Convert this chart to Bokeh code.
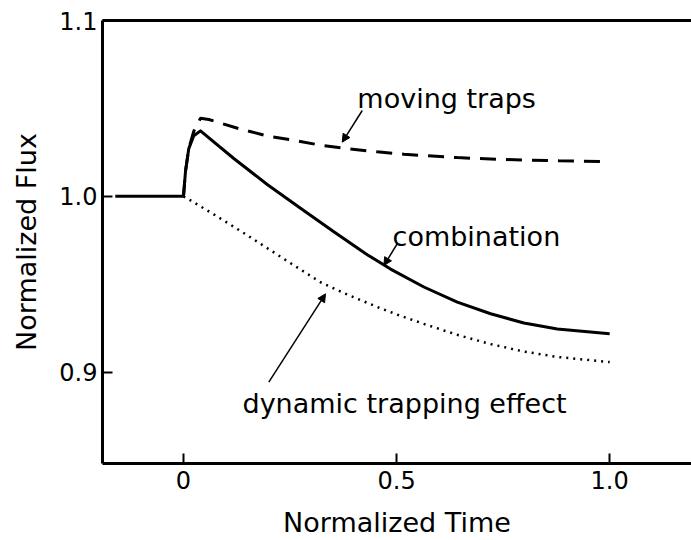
from bokeh.plotting import figure
from bokeh.models import Range1d, FixedTicker, LinearAxis, Label, Arrow, NormalHead
from bokeh.embed import file_html
from bokeh.resources import INLINE

# ---- data ----
base_x = [-0.16, 0.0]
base_y = [1.0, 1.0]

comb_x = [0.0, 0.0047, 0.0124, 0.0242, 0.0399, 0.1181, 0.1965, 0.2746, 0.3528,
          0.4312, 0.4859, 0.5641, 0.6425, 0.7207, 0.7988, 0.8772, 1.0]
comb_y = [1.0, 1.0141, 1.0271, 1.0344, 1.0372, 1.0215, 1.0067, 0.9932, 0.9798,
          0.9668, 0.9586, 0.9484, 0.9398, 0.9332, 0.9279, 0.9245, 0.9218]

mov_x = [0.0, 0.0047, 0.0124, 0.0242, 0.040, 0.0594, 0.1299, 0.200, 0.263, 0.3255,
         0.388, 0.4546, 0.5172, 0.6425, 0.7559, 0.881, 1.0]
mov_y = [1.0, 1.0141, 1.0271, 1.0370, 1.0444, 1.0437, 1.0385, 1.0341, 1.0317, 1.0289,
         1.0270, 1.0253, 1.0239, 1.0220, 1.0209, 1.0202, 1.0197]

dyn_x = [0.0, 0.0164, 0.0712, 0.1495, 0.2277, 0.3216, 0.3842, 0.4624, 0.5094,
         0.5641, 0.6425, 0.7207, 0.7988, 0.8772, 1.0]
dyn_y = [1.0, 0.9977, 0.9897, 0.9779, 0.9656, 0.9511, 0.9441, 0.9363, 0.9320,
         0.9274, 0.9212, 0.9159, 0.9117, 0.9086, 0.9057]

x_ticks = [0, 0.5, 1.0]
x_tick_labels = ["0", "0.5", "1.0"]
y_ticks = [0.9, 1.0, 1.1]
y_tick_labels = ["0.9", "1.0", "1.1"]

FONT = "DejaVu Sans"

p = figure(width=691, height=540, output_backend="svg", toolbar_location=None,
           x_range=Range1d(-0.19, 1.192), y_range=Range1d(0.848, 1.1),
           min_border_left=102, min_border_right=0, min_border_top=20, min_border_bottom=77)
p.outline_line_color = None
p.xgrid.visible = False
p.ygrid.visible = False
p.background_fill_color = "white"
p.border_fill_color = "white"

for ax, ticks, labels in ((p.xaxis[0], x_ticks, x_tick_labels), (p.yaxis[0], y_ticks, y_tick_labels)):
    ax.ticker = FixedTicker(ticks=ticks, minor_ticks=[])
    ax.major_label_overrides = {t: l for t, l in zip(ticks, labels)}
    ax.major_tick_in = 10
    ax.major_tick_out = 0
    ax.major_tick_line_width = 2
    ax.minor_tick_line_color = None
    ax.axis_line_width = 3
    ax.axis_line_color = "black"
    ax.major_tick_line_color = "black"
    ax.major_label_text_font = FONT
    ax.major_label_text_font_size = "24px"
    ax.major_label_text_color = "black"
    ax.axis_label_text_font = FONT
    ax.axis_label_text_font_size = "27px"
    ax.axis_label_text_font_style = "normal"
    ax.axis_label_text_color = "black"

p.xaxis[0].axis_label = "Normalized Time"
p.xaxis[0].major_label_standoff = 7
p.xaxis[0].axis_label_standoff = 15
p.yaxis[0].axis_label = "Normalized Flux"
p.yaxis[0].major_label_standoff = 5
p.yaxis[0].axis_label_standoff = 14

top = LinearAxis(ticker=FixedTicker(ticks=[]), axis_line_width=3, axis_line_color="black",
                 major_tick_line_color=None, minor_tick_line_color=None)
p.add_layout(top, "above")

# ---- curves ----
p.line(base_x, base_y, line_color="black", line_width=3)
p.line(comb_x, comb_y, line_color="black", line_width=3, line_join="round")
p.line(mov_x, mov_y, line_color="black", line_width=3, line_dash="16 10")
p.line(dyn_x, dyn_y, line_color="black", line_width=2.5, line_dash="2 5")

# ---- annotations ----
for txt, x, y in (("moving traps", 0.408, 1.0556),
                  ("combination", 0.4906, 0.9771),
                  ("dynamic trapping effect", 0.1385, 0.8821)):
    p.add_layout(Label(x=x, y=y, text=txt, text_font=FONT, text_font_size="27px",
                       text_color="black", text_baseline="alphabetic"))

for xs, ys, xe, ye in ((0.4195, 1.0488, 0.3725, 1.0308),
                       (0.5016, 0.9730, 0.4702, 0.9606),
                       (0.2002, 0.8943, 0.3333, 0.9445)):
    p.add_layout(Arrow(x_start=xs, y_start=ys, x_end=xe, y_end=ye, line_width=1.5,
                       line_color="black",
                       end=NormalHead(size=8, fill_color="black", line_color="black")))

open("out.html", "w").write(file_html(p, INLINE))
